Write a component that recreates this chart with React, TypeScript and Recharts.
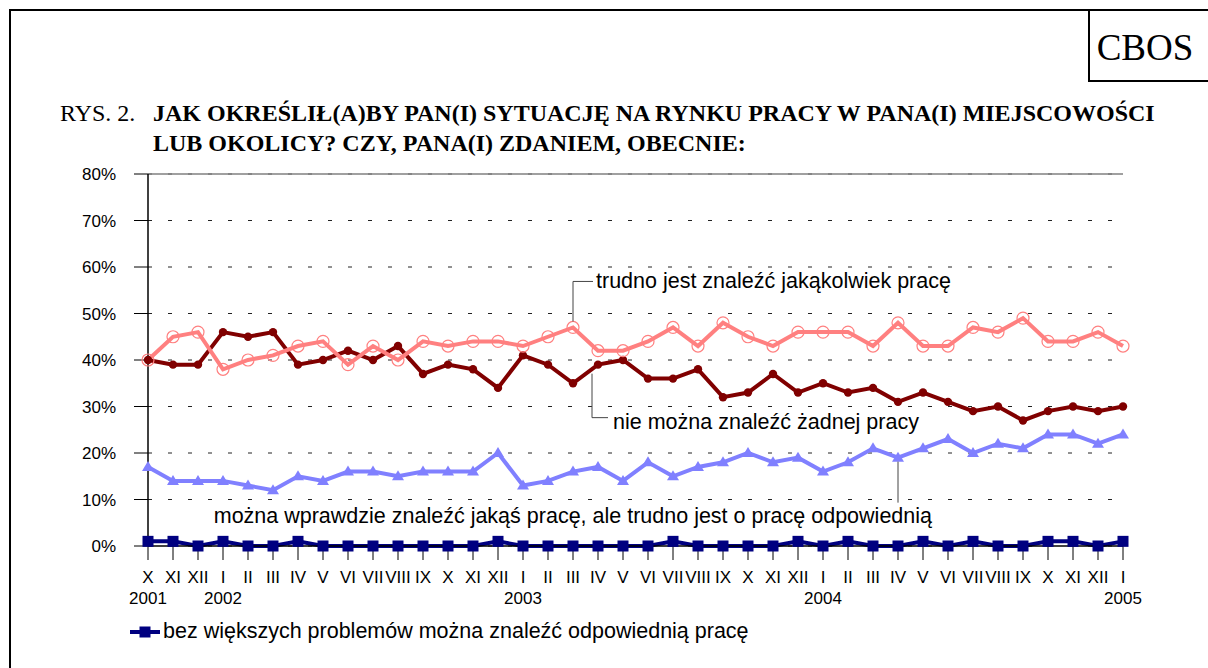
import React from 'react';
import { LineChart, Line, XAxis, YAxis, CartesianGrid, ReferenceLine, Legend } from 'recharts';

// months X 2001 .. I 2005
const months = [
  'X', 'XI', 'XII',
  'I', 'II', 'III', 'IV', 'V', 'VI', 'VII', 'VIII', 'IX', 'X', 'XI', 'XII',
  'I', 'II', 'III', 'IV', 'V', 'VI', 'VII', 'VIII', 'IX', 'X', 'XI', 'XII',
  'I', 'II', 'III', 'IV', 'V', 'VI', 'VII', 'VIII', 'IX', 'X', 'XI', 'XII',
  'I',
];
const yearTicks: [number, string][] = [[0, '2001'], [3, '2002'], [15, '2003'], [27, '2004'], [39, '2005']];
const yTicks = [0, 10, 20, 30, 40, 50, 60, 70, 80];

const trudno = [
  40, 45, 46,
  38, 40, 41, 43, 44, 39, 43, 40, 44, 43, 44, 44,
  43, 45, 47, 42, 42, 44, 47, 43, 48, 45, 43, 46,
  46, 46, 43, 48, 43, 43, 47, 46, 49, 44, 44, 46,
  43,
];
const zadnej = [
  40, 39, 39,
  46, 45, 46, 39, 40, 42, 40, 43, 37, 39, 38, 34,
  41, 39, 35, 39, 40, 36, 36, 38, 32, 33, 37, 33,
  35, 33, 34, 31, 33, 31, 29, 30, 27, 29, 30, 29,
  30,
];
const wprawdzie = [
  17, 14, 14,
  14, 13, 12, 15, 14, 16, 16, 15, 16, 16, 16, 20,
  13, 14, 16, 17, 14, 18, 15, 17, 18, 20, 18, 19,
  16, 18, 21, 19, 21, 23, 20, 22, 21, 24, 24, 22,
  24,
];
const bezProblemow = [
  1, 1, 0,
  1, 0, 0, 1, 0, 0, 0, 0, 0, 0, 0, 1,
  0, 0, 0, 0, 0, 0, 1, 0, 0, 0, 0, 1,
  0, 1, 0, 0, 1, 0, 1, 0, 0, 1, 1, 0,
  1,
];

const labelTrudno = 'trudno jest znaleźć jakąkolwiek pracę';
const labelZadnej = 'nie można znaleźć żadnej pracy';
const labelWprawdzie = 'można wprawdzie znaleźć jakąś pracę, ale trudno jest o pracę odpowiednią';
const labelBez = 'bez większych problemów można znaleźć odpowiednią pracę';

const data = months.map((m, i) => ({
  m,
  trudno: trudno[i],
  zadnej: zadnej[i],
  wprawdzie: wprawdzie[i],
  bez: bezProblemow[i],
}));

const SANS = "'Liberation Sans', Arial, sans-serif";
const SERIF = "'Liberation Serif', 'Times New Roman', serif";
const LABEL_SIZE = 21.5;

const MonthTick = (props: any) => {
  const { x, y, payload, index } = props;
  const year = yearTicks.find((t) => t[0] === index);
  return (
    <g>
      <text x={x} y={y + 23} textAnchor="middle" fontSize={17} fontFamily={SANS} fill="#000">
        {payload.value}
      </text>
      {year && (
        <text x={x} y={y + 44} textAnchor="middle" fontSize={17} fontFamily={SANS} fill="#000">
          {year[1]}
        </text>
      )}
    </g>
  );
};

const trudnoDot = (props: any) => {
  const { cx, cy, index } = props;
  return (
    <g key={`tr-${index}`}>
      <circle cx={cx} cy={cy} r={6} fill="none" stroke="#FF8080" strokeWidth={1.2} />
      {index === 17 && (
        <g>
          <polyline
            points={`${cx},${cy - 6} ${cx},${cy - 46} ${cx + 20},${cy - 46}`}
            fill="none"
            stroke="#444"
            strokeWidth={1}
          />
          <text x={cx + 23} y={cy - 46} dominantBaseline="central" fontSize={LABEL_SIZE} fontFamily={SANS} fill="#000">
            {labelTrudno}
          </text>
        </g>
      )}
    </g>
  );
};

const zadnejDot = (props: any) => {
  const { cx, cy, index } = props;
  return (
    <g key={`za-${index}`}>
      <circle cx={cx} cy={cy} r={4.2} fill="#800000" />
      {index === 18 && (
        <g>
          <polyline
            points={`${cx - 6},${cy + 9} ${cx - 6},${cy + 53} ${cx + 10},${cy + 53}`}
            fill="none"
            stroke="#444"
            strokeWidth={1}
          />
          <text x={cx + 15} y={cy + 57} dominantBaseline="central" fontSize={LABEL_SIZE} fontFamily={SANS} fill="#000">
            {labelZadnej}
          </text>
        </g>
      )}
    </g>
  );
};

const wprawdzieDot = (props: any) => {
  const { cx, cy, index } = props;
  return (
    <g key={`wp-${index}`}>
      <polygon points={`${cx},${cy - 6} ${cx + 6},${cy + 4} ${cx - 6},${cy + 4}`} fill="#8080FF" />
      {index === 30 && (
        <g>
          <line x1={cx} y1={cy + 4} x2={cx} y2={cy + 45} stroke="#444" strokeWidth={1} />
          <text x={cx + 34} y={cy + 58} textAnchor="end" dominantBaseline="central" fontSize={LABEL_SIZE} fontFamily={SANS} fill="#000">
            {labelWprawdzie}
          </text>
        </g>
      )}
    </g>
  );
};

const bezDot = (props: any) => {
  const { cx, cy, index } = props;
  return <rect key={`bz-${index}`} x={cx - 5.5} y={cy - 5.5} width={11} height={11} fill="#000080" />;
};

const LegendContent = (props: any) => {
  const item = (props.payload || [])[0];
  return (
    <div style={{ display: 'flex', alignItems: 'center', fontFamily: SANS, fontSize: LABEL_SIZE, color: '#000', whiteSpace: 'nowrap' }}>
      <svg width={34} height={16} style={{ marginRight: 1 }}>
        <line x1={2} y1={8} x2={32} y2={8} stroke="#000080" strokeWidth={4} />
        <rect x={11.5} y={2.5} width={11} height={11} fill="#000080" />
      </svg>
      <span>{item ? item.value : labelBez}</span>
    </div>
  );
};

export default function App() {
  return (
    <div style={{ position: 'absolute', left: 0, top: 0, width: 1208, height: 668, background: '#fff', overflow: 'hidden' }}>
      <svg width={1208} height={668} style={{ position: 'absolute', left: 0, top: 0 }}>
        {/* page frame and CBOS box */}
        <line x1={9} y1={10} x2={1208} y2={10} stroke="#000" strokeWidth={2} />
        <line x1={10} y1={9} x2={10} y2={668} stroke="#000" strokeWidth={2} />
        <line x1={1089} y1={10} x2={1089} y2={81} stroke="#000" strokeWidth={2} />
        <line x1={1088} y1={81} x2={1208} y2={81} stroke="#000" strokeWidth={2} />
        <text x={1145} y={60} textAnchor="middle" fontSize={37} fontFamily={SERIF} fill="#000">CBOS</text>
        <text x={60} y={121} fontSize={24} fontFamily={SERIF} fill="#000">RYS. 2.</text>
        <text x={153} y={121} fontSize={24} fontWeight="bold" fontFamily={SERIF} fill="#000">
          JAK OKREŚLIŁ(A)BY PAN(I) SYTUACJĘ NA RYNKU PRACY W PANA(I) MIEJSCOWOŚCI
        </text>
        <text x={153} y={151} fontSize={24} fontWeight="bold" fontFamily={SERIF} fill="#000">
          LUB OKOLICY? CZY, PANA(I) ZDANIEM, OBECNIE:
        </text>
      </svg>
      <div style={{ position: 'absolute', left: 0, top: 0 }}>
        <LineChart
          width={1208}
          height={668}
          data={data}
          margin={{ top: 174, right: 85, bottom: 62, left: 88 }}
        >
          <CartesianGrid vertical={false} stroke="#222" strokeDasharray="4 16" />
          <ReferenceLine y={80} stroke="#808080" strokeWidth={1.5} ifOverflow="extendDomain" />
          <XAxis
            dataKey="m"
            interval={0}
            height={60}
            tickSize={14}
            tickMargin={0}
            tick={<MonthTick />}
            tickLine={{ stroke: '#000' }}
            axisLine={{ stroke: '#000', strokeWidth: 1.5 }}
          />
          <YAxis
            domain={[0, 80]}
            ticks={yTicks}
            width={60}
            tickSize={14}
            tickMargin={18}
            tickFormatter={(v: number) => `${v}%`}
            tick={{ fontSize: 17, fontFamily: SANS, fill: '#000' }}
            tickLine={{ stroke: '#000' }}
            axisLine={{ stroke: '#000', strokeWidth: 1.5 }}
          />
          <YAxis
            yAxisId="right"
            orientation="right"
            domain={[0, 80]}
            width={0}
            tick={false}
            tickLine={false}
            axisLine={{ stroke: '#000', strokeWidth: 1.5 }}
          />
          <Legend
            layout="vertical"
            verticalAlign="middle"
            align="center"
            content={<LegendContent />}
            wrapperStyle={{ left: 128, top: 619, width: 760, height: 28 }}
          />
          <Line
            dataKey="bez"
            name={labelBez}
            stroke="#000080"
            strokeWidth={4}
            dot={bezDot}
            activeDot={false}
            isAnimationActive={false}
          />
          <Line
            dataKey="wprawdzie"
            name={labelWprawdzie}
            stroke="#8080FF"
            strokeWidth={4}
            dot={wprawdzieDot}
            activeDot={false}
            legendType="none"
            isAnimationActive={false}
          />
          <Line
            dataKey="zadnej"
            name={labelZadnej}
            stroke="#800000"
            strokeWidth={4}
            dot={zadnejDot}
            activeDot={false}
            legendType="none"
            isAnimationActive={false}
          />
          <Line
            dataKey="trudno"
            name={labelTrudno}
            stroke="#FF8080"
            strokeWidth={4}
            dot={trudnoDot}
            activeDot={false}
            legendType="none"
            isAnimationActive={false}
          />
        </LineChart>
      </div>
    </div>
  );
}
